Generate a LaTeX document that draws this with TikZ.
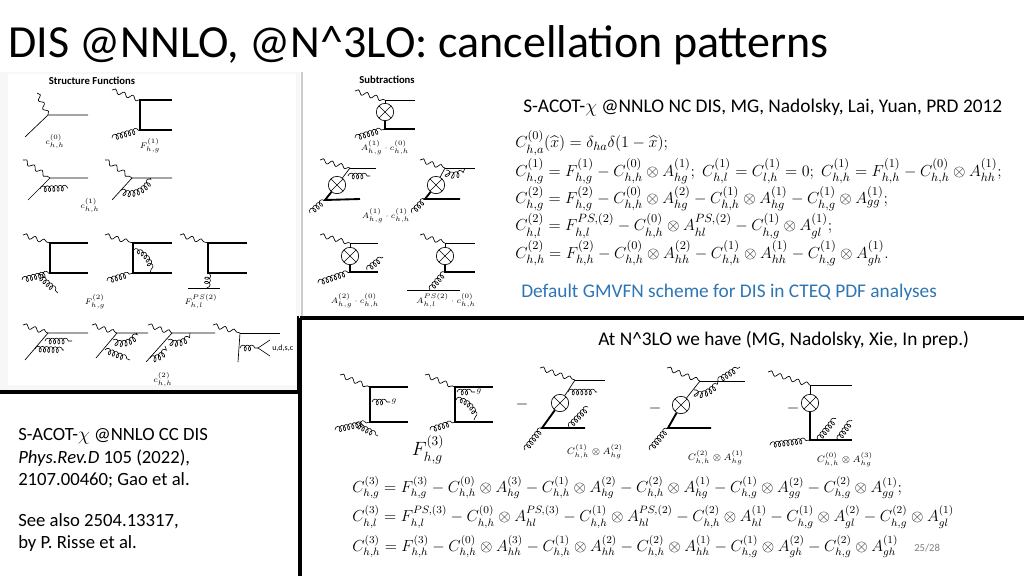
\documentclass[tikz,border=0pt]{standalone}
\usepackage{fontspec}
\usepackage{amsmath}
\setmainfont{Carlito}
\usetikzlibrary{decorations.pathmorphing}
\definecolor{blu}{RGB}{46,117,182}
\tikzset{
 ph/.style={decorate,decoration={snake,segment length=7pt,amplitude=1.6pt},line width=0.5pt},
 gl/.style={decorate,decoration={coil,aspect=0.7,segment length=3.2pt,amplitude=2.2pt},line width=0.45pt},
 qk/.style={line width=0.5pt},
 hq/.style={line width=1.4pt},
 ox/.style={circle,draw,line width=0.5pt,inner sep=0pt,minimum size=13pt,path picture={\draw (path picture bounding box.north west)--(path picture bounding box.south east) (path picture bounding box.north east)--(path picture bounding box.south west);}},
 lab/.style={font=\fontsize{6}{7}\selectfont,inner sep=0pt},
 txt/.style={font=\fontsize{14.5}{17}\selectfont,inner sep=0pt,anchor=west},
 eq/.style={font=\fontsize{12.6}{15}\selectfont,inner sep=0pt,anchor=west},
 frame/.style={line width=3pt,black}
}
\begin{document}
\begin{tikzpicture}[x=0.75pt,y=-0.75pt]
\useasboundingbox (0,0) rectangle (1024,576);
\fill[white] (0,0) rectangle (1024,576);
% title
\node[anchor=west,inner sep=0pt,font=\fontsize{34.5}{38}\selectfont] (title) at (8,45) {DIS @NNLO, @N\textasciicircum3LO: cancellation patterns};
% left image panel
\fill[gray!6] (0,72) rectangle (300,392);
\fill[white] (8,74) rectangle (296,385);
\draw[gray!40,line width=0.8pt] (302,72)--(302,318);
\node[font=\bfseries\fontsize{8}{9}\selectfont,inner sep=0pt] (sf) at (92,81) {Structure Functions};
\node[font=\bfseries\fontsize{8}{9}\selectfont,inner sep=0pt] (sb) at (387,80) {Subtractions};
% frames
\draw[frame] (0,392)--(300,392);
\draw[frame] (300,318)--(1024,318);
\draw[frame] (300,318)--(300,576);
\draw[line width=2pt] (298,316)--(298,392);
% ---- structure functions
\draw[ph] (37,93)--(48,115); \draw[qk] (25,137)--(48,115)--(88,115);
\node[lab] (l1) at (55,142) {$c^{(0)}_{h,h}$};
\draw[ph] (112,90)--(140,100); \draw[hq] (172,100)--(140,100)--(140,130)--(172,130); \draw[gl] (112,138)--(140,130);
\node[lab] (l2) at (150,146) {$F^{(1)}_{h,g}$};
\draw[ph] (23,160)--(50,178); \draw[qk] (28,200)--(50,178)--(88,178); \draw[gl] (40,189)--(68,188);
\draw[ph] (105,160)--(132,178); \draw[qk] (112,200)--(132,178)--(172,178); \draw[gl] (121,190) to[out=-40,in=-100] (150,178);
\node[lab] (l3) at (90,206) {$c^{(1)}_{h,h}$};
\draw[ph] (23,235)--(50,243); \draw[hq] (88,243)--(50,243)--(50,273)--(88,273); \draw[gl] (22,280)--(50,273); \draw[gl] (38,275)--(58,293);
\draw[ph] (105,235)--(133,243); \draw[hq] (172,243)--(133,243)--(133,273)--(172,273); \draw[gl] (107,281)--(133,273); \draw[gl] (133,252) to[out=10,in=80] (150,273);
\draw[ph] (180,235)--(208,243); \draw[hq] (247,243)--(208,243)--(208,273)--(247,273); \draw[gl] (208,273)--(207,288); \draw[qk] (188,288)--(220,288);
\node[lab] (l4) at (95,302) {$F^{(2)}_{h,g}$};
\node[lab] (l5) at (201,302) {$F^{PS(2)}_{h,l}$};
\draw[ph] (23,325)--(48,333); \draw[qk] (25,360)--(48,333)--(88,333); \draw[gl] (45,341)--(72,341); \draw[gl] (35,349)--(64,350);
\draw[ph] (92,325)--(117,333); \draw[qk] (96,358)--(117,333)--(148,333); \draw[gl] (113,340) to[out=-40,in=-100] (136,333); \draw[gl] (105,350)--(130,360);
\draw[ph] (148,325)--(172,333); \draw[qk] (146,362)--(172,333)--(215,333); \draw[gl] (168,340) to[out=-40,in=-100] (190,333); \draw[gl] (150,358) to[out=-10,in=-80] (165,346);
\draw[ph] (213,325)--(240,333); \draw[qk] (240,333)--(280,333); \draw[qk] (240,333)--(238,362); \draw[gl] (240,348)--(258,348); \draw[qk] (270,340)--(258,348)--(270,356);
\node[lab,anchor=west] (l6) at (272,348) {u,d,s,c};
\node[lab] (l7) at (163,380) {$c^{(2)}_{h,h}$};
% ---- subtractions
\draw[ph] (355,91)--(385,100); \draw[qk] (385,100)--(415,100); \node[ox] (o1) at (385,112) {}; \draw[qk] (385,100)--(o1);
\draw[hq] (o1)--(385,129)--(415,129); \draw[gl] (355,138)--(385,129);
\node[lab] (l8) at (385,148) {$A^{(1)}_{h,g}\cdot c^{(0)}_{h,h}$};
\draw[ph] (320,160)--(350,168); \draw[qk] (350,168)--(376,168); \node[ox] (o2) at (337,185) {}; \draw[qk] (350,168)--(o2);
\draw[hq] (o2)--(325,200)--(360,199); \draw[gl] (310,213)--(325,200); \draw[gl] (348,176)--(370,176);
\draw[ph] (420,160)--(445,168); \draw[qk] (445,168)--(475,168); \node[ox] (o3) at (436,185) {}; \draw[qk] (445,168)--(o3);
\draw[hq] (o3)--(425,199)--(460,199); \draw[gl] (412,213)--(425,199); \draw[gl] (446,170) to[out=-70,in=-110] (465,168);
\node[lab] (l9) at (386,216) {$A^{(1)}_{h,g}\cdot c^{(1)}_{h,h}$};
\draw[ph] (320,235)--(350,243); \draw[qk] (350,243)--(378,243); \node[ox] (o4) at (350,256) {}; \draw[qk] (350,243)--(o4);
\draw[hq] (o4)--(350,272)--(378,272); \draw[gl] (318,283)--(350,272); \draw[gl] (367,270)--(383,257);
\node[lab] (l10) at (355,301) {$A^{(2)}_{h,g}\cdot c^{(0)}_{h,h}$};
\draw[ph] (420,235)--(445,243); \draw[qk] (445,243)--(475,243); \node[ox] (o5) at (445,256) {}; \draw[qk] (445,243)--(o5);
\draw[hq] (o5)--(445,272)--(475,272); \draw[gl] (430,290)--(445,272); \draw[qk] (407,290)--(460,290);
\node[lab] (l11) at (446,301) {$A^{PS(2)}_{h,l}\cdot c^{(0)}_{h,h}$};
% ---- top right text
\node[txt] (ref1) at (523,108) {S-ACOT-$\chi$ @NNLO NC DIS, MG, Nadolsky, Lai, Yuan, PRD 2012};
\node[eq,anchor=north west] (eqs) at (515,130) {$\begin{aligned}[t]
&C^{(0)}_{h,a}(\widehat{x})=\delta_{ha}\delta(1-\widehat{x});\\[-1.5pt]
&C^{(1)}_{h,g}=F^{(1)}_{h,g}-C^{(0)}_{h,h}\otimes A^{(1)}_{hg};\; C^{(1)}_{h,l}=C^{(1)}_{l,h}=0;\; C^{(1)}_{h,h}=F^{(1)}_{h,h}-C^{(0)}_{h,h}\otimes A^{(1)}_{hh};\\[-2.5pt]
&C^{(2)}_{h,g}=F^{(2)}_{h,g}-C^{(0)}_{h,h}\otimes A^{(2)}_{hg}-C^{(1)}_{h,h}\otimes A^{(1)}_{hg}-C^{(1)}_{h,g}\otimes A^{(1)}_{gg};\\[-2.5pt]
&C^{(2)}_{h,l}=F^{PS,(2)}_{h,l}-C^{(0)}_{h,h}\otimes A^{PS,(2)}_{hl}-C^{(1)}_{h,g}\otimes A^{(1)}_{gl};\\[-2.5pt]
&C^{(2)}_{h,h}=F^{(2)}_{h,h}-C^{(0)}_{h,h}\otimes A^{(2)}_{hh}-C^{(1)}_{h,h}\otimes A^{(1)}_{hh}-C^{(1)}_{h,g}\otimes A^{(1)}_{gh}.
\end{aligned}$};
\node[txt,text=blu] (gm) at (521,292) {Default GMVFN scheme for DIS in CTEQ PDF analyses};
\node[txt] (n3) at (598,340) {At N\textasciicircum3LO we have (MG, Nadolsky, Xie, In prep.)};
% ---- N3LO diagrams
\draw[ph] (340,375)--(370,387); \draw[hq] (408,387)--(370,387)--(370,422)--(408,422);
\draw[gl] (372,402)--(390,402); \node[lab] (g1) at (394,402) {$g$};
\draw[gl] (335,430)--(370,422); \draw[gl] (355,424)--(378,436);
\draw[ph] (425,375)--(455,387); \draw[hq] (493,387)--(455,387)--(455,422)--(493,422);
\draw[gl] (457,392)--(475,392); \node[lab] (g2) at (479,392) {$g$};
\draw[gl] (456,400) to[out=0,in=80] (474,420); \draw[gl] (430,430)--(455,422);
\node[inner sep=0pt,font=\fontsize{14}{16}\selectfont] (F3) at (428,450) {$F^{(3)}_{h,g}$};
\node[inner sep=0pt,font=\fontsize{12}{14}\selectfont] (m1) at (522,404) {$-$};
\draw[ph] (540,368)--(575,380); \draw[qk] (575,380)--(605,380); \node[ox] (o6) at (560,403) {}; \draw[qk] (575,380)--(o6);
\draw[gl] (568,392)--(597,392); \draw[hq] (o6)--(542,428)--(585,428); \draw[gl] (525,450)--(542,428); \draw[gl] (569,427)--(588,407);
\node[lab,font=\fontsize{7.5}{8}\selectfont] (c3) at (595,452) {$C^{(1)}_{h,h}\otimes A^{(2)}_{hg}$};
\node[inner sep=0pt,font=\fontsize{12}{14}\selectfont] (m2) at (655,408) {$-$};
\draw[ph] (667,368)--(700,381); \draw[qk] (700,381)--(745,381); \node[ox] (o7) at (681,405) {}; \draw[qk] (700,381)--(o7);
\draw[gl] (694,390) to[out=-60,in=-110] (718,381); \draw[gl] (718,381)--(740,367);
\draw[hq] (o7)--(668,428)--(711,428); \draw[gl] (650,450)--(668,428);
\node[lab,font=\fontsize{7.5}{8}\selectfont] (c4) at (716,458) {$C^{(2)}_{h,h}\otimes A^{(1)}_{hg}$};
\node[inner sep=0pt,font=\fontsize{12}{14}\selectfont] (m3) at (793,408) {$-$};
\draw[ph] (768,372)--(810,385); \draw[qk] (810,385)--(852,385); \node[ox] (o8) at (810,403) {}; \draw[qk] (810,385)--(o8);
\draw[hq] (o8)--(810,440)--(852,440); \draw[gl] (770,445)--(810,440); \draw[gl] (818,440)--(836,418); \draw[gl] (838,440)--(852,420);
\node[lab,font=\fontsize{7.5}{8}\selectfont] (c5) at (845,460) {$C^{(0)}_{h,h}\otimes A^{(3)}_{hg}$};
% bottom equations
\node[eq,anchor=north west,font=\fontsize{12}{14}\selectfont] (eqb) at (352,476) {$\begin{aligned}[t]
&C^{(3)}_{h,g}=F^{(3)}_{h,g}-C^{(0)}_{h,h}\otimes A^{(3)}_{hg}-C^{(1)}_{h,h}\otimes A^{(2)}_{hg}-C^{(2)}_{h,h}\otimes A^{(1)}_{hg}-C^{(1)}_{h,g}\otimes A^{(2)}_{gg}-C^{(2)}_{h,g}\otimes A^{(1)}_{gg};\\[1pt]
&C^{(3)}_{h,l}=F^{PS,(3)}_{h,l}-C^{(0)}_{h,h}\otimes A^{PS,(3)}_{hl}-C^{(1)}_{h,h}\otimes A^{PS,(2)}_{hl}-C^{(2)}_{h,h}\otimes A^{(1)}_{hl}-C^{(1)}_{h,g}\otimes A^{(2)}_{gl}-C^{(2)}_{h,g}\otimes A^{(1)}_{gl}\\[1pt]
&C^{(3)}_{h,h}=F^{(3)}_{h,h}-C^{(0)}_{h,h}\otimes A^{(3)}_{hh}-C^{(1)}_{h,h}\otimes A^{(2)}_{hh}-C^{(2)}_{h,h}\otimes A^{(1)}_{hh}-C^{(1)}_{h,g}\otimes A^{(2)}_{gh}-C^{(2)}_{h,g}\otimes A^{(1)}_{gh}
\end{aligned}$};
% left text
\node[txt,anchor=north west,align=left,font=\fontsize{14}{17}\selectfont] (lt) at (18,428) {S-ACOT-$\chi$ @NNLO CC DIS\\\textit{Phys.Rev.D} 105 (2022),\\2107.00460; Gao et al.};
\node[txt,anchor=north west,align=left,font=\fontsize{14}{17}\selectfont] (lt2) at (18,513) {See also 2504.13317,\\by P. Risse et al.};
\node[txt,text=gray,font=\fontsize{8}{9}\selectfont] (pg) at (914,548) {25/28};
\end{tikzpicture}
\end{document}
